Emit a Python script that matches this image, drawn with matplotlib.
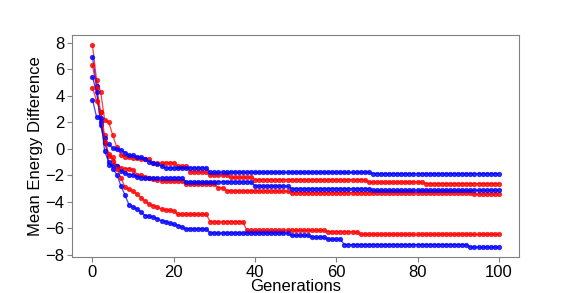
import numpy as np
import matplotlib
matplotlib.use("Agg")
import matplotlib.pyplot as plt

plt.rcParams['font.family'] = ['Liberation Sans', 'DejaVu Sans']

generations = list(range(101))

blue_a = ([6.9, 4.75, 1.8, 0.4, 0.33, 0.04, -0.05, -0.09, -0.3, -0.5, -0.5, -0.6, -0.65,
           -0.75, -1.0, -1.1, -1.15, -1.3] + [-1.45] * 11 + [-1.78] * 40 + [-1.88] * 32)
red_b = ([7.8, 5.2, 4.3, 2.2, 2.0, 1.0, 0.1, -0.45, -0.6, -0.65, -0.7, -0.7, -0.75, -0.75, -0.8]
         + [-1.08] * 6 + [-1.33] * 3 + [-1.75] * 5 + [-1.98] * 5 + [-2.15] * 6
         + [-2.33] * 28 + [-2.52] * 14 + [-2.63] * 19)
blue_c = ([5.4, 4.25, 2.0, 0.78, -1.2, -1.25, -1.33, -1.7, -1.85, -1.95, -1.95, -2.1]
          + [-2.2] * 11 + [-2.5] * 17 + [-2.82] * 9 + [-3.02] * 20 + [-3.14] * 32)
red_d = ([6.3, 4.6, 2.8, 1.0, -0.55, -0.65, -1.3, -1.45, -1.5, -1.5, -1.6, -1.95, -2.0,
          -2.1, -2.2, -2.3, -2.35] + [-2.44] * 6 + [-2.69] * 8 + [-2.94] * 2
         + [-3.19] * 16 + [-3.31] * 45 + [-3.41] * 7)
red_e = ([4.6, 3.6, 2.8, 0.5, -0.4, -0.9, -1.5, -2.2, -2.9, -3.06, -3.2, -3.43, -3.7,
          -3.95, -4.18, -4.3, -4.4, -4.55, -4.6, -4.65, -4.67] + [-4.95] * 8
         + [-5.5] * 9 + [-6.16] * 20 + [-6.26] * 8 + [-6.46] * 35)
blue_f = ([3.7, 2.4, 2.3, -0.2, -1.0, -1.5, -1.95, -2.8, -3.5, -4.23, -4.4, -4.55, -4.8,
           -5.05, -5.1, -5.15, -5.3, -5.42, -5.5, -5.6, -5.7, -5.79, -5.9]
          + [-6.05] * 6 + [-6.36] * 20 + [-6.54] * 5 + [-6.68] * 4 + [-6.83] * 4
          + [-7.23] * 31 + [-7.42] * 8)

series = [(red_b, "red"), (blue_a, "blue"), (red_d, "red"),
          (blue_c, "blue"), (red_e, "red"), (blue_f, "blue")]

fig = plt.figure(figsize=(5.82, 2.93), dpi=100)
ax = fig.add_axes([0.124, 0.122, 0.768, 0.758])
for vals, col in series:
    ax.plot(generations, vals, color=col, marker="o", markersize=2.8,
            linewidth=0.9, alpha=0.75)

ax.set_xticks([0, 20, 40, 60, 80, 100])
ax.set_yticks([-8, -6, -4, -2, 0, 2, 4, 6, 8])
ax.tick_params(labelsize=12, color="#808080", pad=2)
for s in ax.spines.values():
    s.set_color("#808080")
ax.set_xlabel("Generations", fontsize=12, labelpad=-1)
ax.set_ylabel("Mean Energy Difference", fontsize=12, labelpad=2)
fig.savefig("out.png", dpi=100)
